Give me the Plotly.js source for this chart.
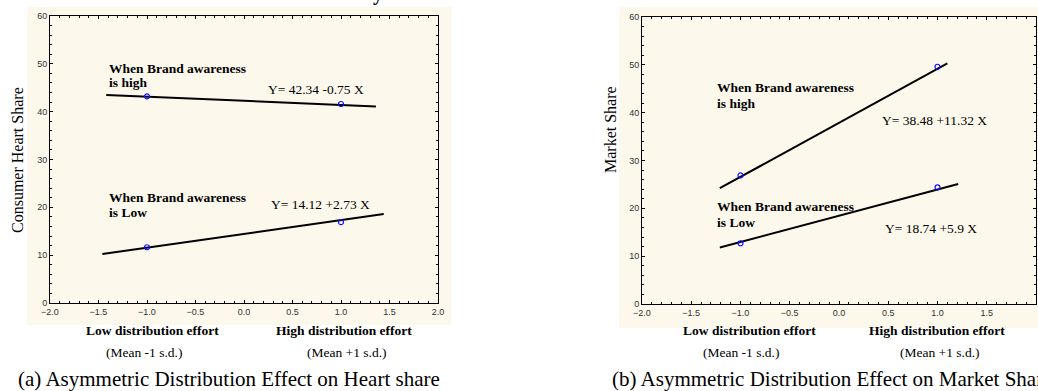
<!DOCTYPE html>
<html>
<head>
<meta charset="utf-8">
<script src="https://cdn.plot.ly/plotly-3.0.1.min.js"></script>
<style>html,body{margin:0;padding:0;background:#fff;}#chart{width:1038px;height:391px;}</style>
</head>
<body>
<div id="chart"></div>
<script>
// ---- data ----
const pointX = [-1, 1];
// (a) Heart share
const heartHighPts = [43.2, 41.6];
const heartLowPts = [11.65, 16.9];
const heartHighLineX = [-1.42, 1.36];
const heartHighLineY = [43.5, 41.1];
const heartLowLineX = [-1.46, 1.44];
const heartLowLineY = [10.25, 18.6];
// (b) Market share
const marketHighPts = [26.9, 49.6];
const marketLowPts = [12.7, 24.4];
const marketHighLineX = [-1.21, 1.10];
const marketHighLineY = [24.2, 50.3];
const marketLowLineX = [-1.21, 1.21];
const marketLowLineY = [11.8, 25.1];
// labels
const eqHeartHigh = "Y= 42.34 -0.75 X";
const eqHeartLow = "Y= 14.12 +2.73 X";
const eqMarketHigh = "Y= 38.48 +11.32 X";
const eqMarketLow = "Y= 18.74 +5.9 X";
const groupHigh = ["When Brand awareness", "is high"];
const groupLow = ["When Brand awareness", "is Low"];
const xLabelLow = ["Low distribution effort", "(Mean -1 s.d.)"];
const xLabelHigh = ["High distribution effort", "(Mean +1 s.d.)"];
const captionA = "(a) Asymmetric Distribution Effect on Heart share";
const captionB = "(b) Asymmetric Distribution Effect on Market Share";
const yTitleA = "Consumer Heart Share";
const yTitleB = "Market Share";

const W = 1038, H = 391;
const px = v => v / W;
const py = v => 1 - v / H;
const serif = "Liberation Serif, Times New Roman, serif";
const sans = "Liberation Sans, Arial, sans-serif";

function lineTrace(x, y, xa, ya) {
  return {x: x, y: y, xaxis: xa, yaxis: ya, mode: 'lines', type: 'scatter',
    line: {color: '#000', width: 2}, hoverinfo: 'skip', showlegend: false};
}
function ptTrace(y, xa, ya) {
  return {x: pointX, y: y, xaxis: xa, yaxis: ya, mode: 'markers', type: 'scatter',
    marker: {symbol: 'circle-open', size: 5, color: '#1010ff', line: {width: 1.2, color: '#1010ff'}},
    hoverinfo: 'skip', showlegend: false};
}

const data = [
  lineTrace(heartHighLineX, heartHighLineY, 'x', 'y'),
  lineTrace(heartLowLineX, heartLowLineY, 'x', 'y'),
  ptTrace(heartHighPts, 'x', 'y'),
  ptTrace(heartLowPts, 'x', 'y'),
  lineTrace(marketHighLineX, marketHighLineY, 'x2', 'y2'),
  lineTrace(marketLowLineX, marketLowLineY, 'x2', 'y2'),
  ptTrace(marketHighPts, 'x2', 'y2'),
  ptTrace(marketLowPts, 'x2', 'y2')
];

function xAxis(domain, anchor) {
  return {domain: domain, anchor: anchor, range: [-2, 2], dtick: 0.5, tick0: -2, tickformat: '.1f',
    showgrid: false, zeroline: false, showline: true, linecolor: '#000', linewidth: 1, mirror: 'allticks',
    ticks: 'inside', ticklen: 3, tickcolor: '#000', tickwidth: 1,
    minor: {dtick: 0.1, ticks: 'inside', ticklen: 2, tickcolor: '#000'},
    tickfont: {family: sans, size: 9, color: '#333'}, fixedrange: true};
}
function yAxis(domain, anchor) {
  return {domain: domain, anchor: anchor, range: [0, 60], dtick: 10, tick0: 0,
    showgrid: false, zeroline: false, showline: true, linecolor: '#000', linewidth: 1, mirror: 'allticks',
    ticks: 'inside', ticklen: 3, tickcolor: '#000', tickwidth: 1,
    minor: {dtick: 2, ticks: 'inside', ticklen: 2, tickcolor: '#000'},
    tickfont: {family: sans, size: 9, color: '#333'}, fixedrange: true};
}

function ann(text, x, y, xref, yref, opts) {
  return Object.assign({text: text, x: x, y: y, xref: xref, yref: yref, showarrow: false,
    xanchor: 'left', yanchor: 'middle', font: {family: serif, size: 13.5, color: '#000'}}, opts || {});
}
const bold = s => '<b>' + s + '</b>';

const annotations = [
  // panel (a)
  ann(bold(groupHigh[0]), -1.41, 49.1, 'x', 'y'),
  ann(bold(groupHigh[1]), -1.41, 46.0, 'x', 'y'),
  ann(eqHeartHigh, 0.224, 44.7, 'x', 'y'),
  ann(bold(groupLow[0]), -1.41, 22.1, 'x', 'y'),
  ann(bold(groupLow[1]), -1.41, 18.9, 'x', 'y'),
  ann(eqHeartLow, 0.255, 20.5, 'x', 'y'),
  // panel (b)
  ann(bold(groupHigh[0]), -1.26, 45.3, 'x2', 'y2'),
  ann(bold(groupHigh[1]), -1.26, 42.0, 'x2', 'y2'),
  ann(eqMarketHigh, 0.416, 38.3, 'x2', 'y2'),
  ann(bold(groupLow[0]), -1.26, 20.4, 'x2', 'y2'),
  ann(bold(groupLow[1]), -1.26, 17.1, 'x2', 'y2'),
  ann(eqMarketLow, 0.444, 15.7, 'x2', 'y2'),
  // axis titles
  ann(yTitleA, px(18), py(160), 'paper', 'paper', {xanchor: 'center', textangle: -90, font: {family: serif, size: 16, color: '#000'}}),
  ann(yTitleB, px(611), py(130), 'paper', 'paper', {xanchor: 'center', textangle: -90, font: {family: serif, size: 16, color: '#000'}}),
  // x descriptors
  ann(bold(xLabelLow[0]), px(152), py(330), 'paper', 'paper', {xanchor: 'center'}),
  ann(xLabelLow[1], px(144), py(352), 'paper', 'paper', {xanchor: 'center'}),
  ann(bold(xLabelHigh[0]), px(344), py(330), 'paper', 'paper', {xanchor: 'center'}),
  ann(xLabelHigh[1], px(347), py(352), 'paper', 'paper', {xanchor: 'center'}),
  ann(bold(xLabelLow[0]), px(749), py(330), 'paper', 'paper', {xanchor: 'center'}),
  ann(xLabelLow[1], px(741), py(352), 'paper', 'paper', {xanchor: 'center'}),
  ann(bold(xLabelHigh[0]), px(937), py(330), 'paper', 'paper', {xanchor: 'center'}),
  ann(xLabelHigh[1], px(940), py(352), 'paper', 'paper', {xanchor: 'center'}),
  // captions
  ann(captionA, px(16), py(379), 'paper', 'paper', {font: {family: serif, size: 21, color: '#000'}}),
  ann(captionB, px(610), py(379), 'paper', 'paper', {font: {family: serif, size: 21, color: '#000'}}),
  // clipped heading descender at top
  ann(bold('y'), px(378), py(-7), 'paper', 'paper', {xanchor: 'center', font: {family: serif, size: 20, color: '#000'}})
];

const shapes = [
  {type: 'rect', xref: 'paper', yref: 'paper', x0: px(27), x1: px(451), y0: py(325), y1: py(7),
   fillcolor: '#fcf8ec', line: {width: 0}, layer: 'below'},
  {type: 'rect', xref: 'paper', yref: 'paper', x0: px(619), x1: px(1040), y0: py(328), y1: py(7),
   fillcolor: '#fcf8ec', line: {width: 0}, layer: 'below'}
];

const layout = {
  width: W, height: H,
  margin: {l: 0, r: 0, t: 0, b: 0, pad: 0},
  paper_bgcolor: '#ffffff', plot_bgcolor: '#ffffff',
  showlegend: false,
  xaxis: xAxis([px(50), px(438)], 'y'),
  yaxis: yAxis([py(303), py(16)], 'x'),
  xaxis2: xAxis([px(642), px(1036)], 'y2'),
  yaxis2: yAxis([py(304), py(17)], 'x2'),
  annotations: annotations,
  shapes: shapes
};

Plotly.newPlot('chart', data, layout, {displayModeBar: false, staticPlot: true});
</script>
</body>
</html>
